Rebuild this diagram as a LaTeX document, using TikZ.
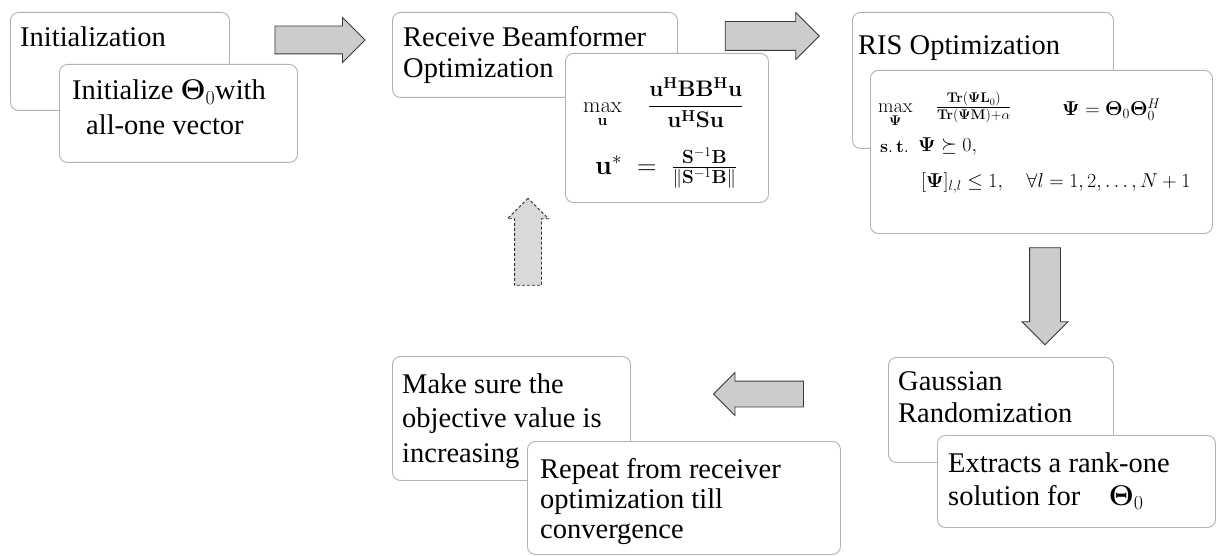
\RequirePackage{fix-cm}
\documentclass[tikz,border=0pt]{standalone}
\usepackage{amsmath,amssymb}
\usepackage{bm}
\usepackage[no-math]{fontspec}
\setmainfont{Liberation Serif}
\usetikzlibrary{shapes.arrows}
\begin{document}
\begin{tikzpicture}[x=1pt,y=-1pt,
  box/.style={draw=gray!60, line width=0.9pt, rounded corners=8pt, fill=white, inner sep=0pt, anchor=north west},
  txt/.style={anchor=base west, inner sep=0pt, font=\fontsize{28.5}{34}\selectfont},
  mth/.style={anchor=west, inner sep=0pt},
  blockarrow/.style={single arrow, draw=gray!45!black, fill=gray!40, line width=0.8pt, inner xsep=0pt, minimum width=0pt},
]
\useasboundingbox[fill=white] (0,0) rectangle (1217,556);

% --- Initialization
\node[box, minimum width=219, minimum height=98] (initO) at (10,12) {};
\node[txt] (initT) at (20,47) {Initialization};
\node[box, minimum width=238, minimum height=98] (initI) at (59,64) {};
\node[txt] (initT1) at (72,100) {Initialize $\bm{\Theta}_0$with};
\node[txt] (initT2) at (86,135) {all-one vector};

% --- Receive beamformer
\node[box, minimum width=285, minimum height=85] (rbO) at (392,12) {};
\node[txt] (rbT1) at (403,47) {Receive Beamformer};
\node[txt] (rbT2) at (403,78) {Optimization};
\node[box, minimum width=203, minimum height=149] (rbI) at (565,53) {};
\node[mth, font=\fontsize{22.5}{26}\selectfont] (rbM1) at (583,103)
  {$\displaystyle\max_{\mathbf{u}}\quad\frac{\mathbf{u^{H}BB^{H}u}}{\mathbf{u^{H}Su}}$};
\node[mth, font=\fontsize{27}{31}\selectfont] (rbM2) at (595,168)
  {$\mathbf{u}^{*}\;=\;\frac{\mathbf{S}^{-1}\mathbf{B}}{\|\mathbf{S}^{-1}\mathbf{B}\|}$};

% --- RIS optimization
\node[box, minimum width=261, minimum height=136] (risO) at (852,12) {};
\node[txt] (risT) at (858,55) {RIS Optimization};
\node[box, minimum width=342, minimum height=163] (risI) at (870,70) {};
\node[mth, font=\fontsize{20}{24}\selectfont] (risM1) at (878,110)
  {$\displaystyle\max_{\bm{\Psi}}\quad\tfrac{\mathbf{Tr}(\bm{\Psi}\mathbf{L}_0)}{\mathbf{Tr}(\bm{\Psi}\mathbf{M})+\alpha}$};
\node[mth, font=\fontsize{20}{24}\selectfont] (risM2) at (1062,110)
  {$\bm{\Psi}=\bm{\Theta}_0\bm{\Theta}_0^{H}$};
\node[mth, font=\fontsize{18}{22}\selectfont] (risM3) at (880,147)
  {$\mathbf{s.\,t.}$};
\node[mth, font=\fontsize{20}{24}\selectfont] (risM4) at (918,147)
  {$\bm{\Psi}\succeq 0,$};
\node[mth, font=\fontsize{20}{24}\selectfont] (risM5) at (921,183)
  {$[\bm{\Psi}]_{l,l}\le 1,\quad\forall l=1,2,\ldots,N+1$};

% --- Gaussian randomization
\node[box, minimum width=225, minimum height=105] (grO) at (888,357) {};
\node[txt] (grT1) at (898,390) {Gaussian};
\node[txt] (grT2) at (898,422) {Randomization};
\node[box, minimum width=278, minimum height=92] (grI) at (937,435) {};
\node[txt] (grT3) at (948,472) {Extracts a rank-one};
\node[txt] (grT4) at (948,505) {solution for\quad $\bm{\Theta}_0$};

% --- Make sure / repeat
\node[box, minimum width=238, minimum height=124] (msO) at (392,356) {};
\node[txt] (msT1) at (402,393) {Make sure the};
\node[txt] (msT2) at (402,427) {objective value is};
\node[txt] (msT3) at (402,462) {increasing};
\node[box, minimum width=313, minimum height=113] (rpI) at (527,441) {};
\node[txt] (rpT1) at (540,478) {Repeat from receiver};
\node[txt] (rpT2) at (540,508) {optimization till};
\node[txt] (rpT3) at (540,538) {convergence};

% --- Block arrows
\node[blockarrow, minimum height=90, inner ysep=13.5pt, single arrow head extend=8.5pt] (a1) at (313,40) {};
\node[blockarrow, minimum height=94, inner ysep=14pt, single arrow head extend=9pt] (a2) at (765,36) {};
\node[blockarrow, rotate=-90, minimum height=97, inner ysep=15pt, single arrow head extend=7.5pt] (a3) at (1045,288.5) {};
\node[blockarrow, rotate=180, minimum height=90, inner ysep=12.5pt, single arrow head extend=8.5pt] (a4) at (765,394) {};
\node[blockarrow, rotate=90, minimum height=87, inner ysep=13pt, single arrow head extend=7pt, dash pattern=on 3pt off 2pt, draw=gray!35!black, fill=gray!30] (a5) at (528,248.5) {};
\end{tikzpicture}
\end{document}
